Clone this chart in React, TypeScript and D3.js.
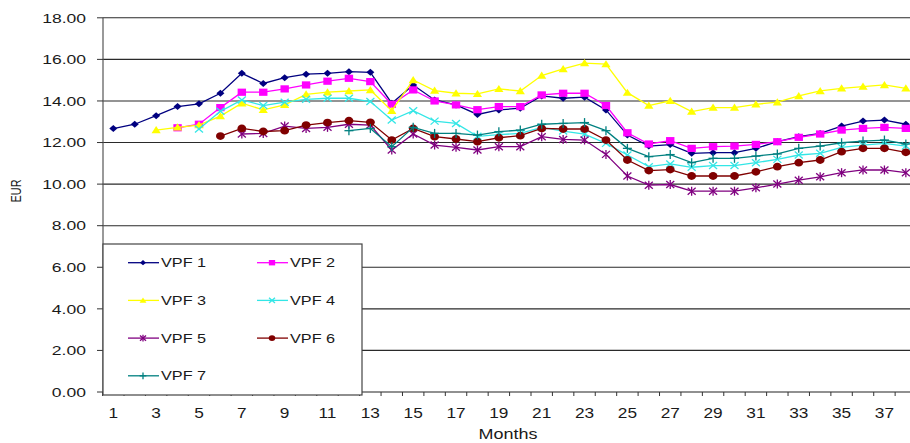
import React from "react";
import * as d3 from "d3";

// values, one entry per month (null = no value yet)
const months = d3.range(1, 39);
const yTicks = [0, 2, 4, 6, 8, 10, 12, 14, 16, 18];

const vpf1 = [12.67, 12.88, 13.29, 13.73, 13.86, 14.37, 15.33, 14.84, 15.12, 15.29, 15.33, 15.41, 15.38, 13.89, 14.77, 14.05, 13.81, 13.35, 13.57, 13.65, 14.24, 14.13, 14.18, 13.57, 12.36, 11.83, 11.9, 11.48, 11.51, 11.51, 11.72, 12.04, 12.28, 12.44, 12.79, 13.03, 13.08, 12.88];
const vpf2 = [null, null, null, 12.71, 12.88, 13.68, 14.42, 14.42, 14.58, 14.77, 14.95, 15.09, 14.93, 13.84, 14.53, 14.0, 13.81, 13.58, 13.73, 13.73, 14.29, 14.37, 14.37, 13.78, 12.47, 11.93, 12.09, 11.72, 11.8, 11.83, 11.91, 12.04, 12.25, 12.41, 12.6, 12.68, 12.73, 12.68];
const vpf3 = [null, null, 12.6, 12.73, 12.84, 13.27, 13.89, 13.57, 13.81, 14.32, 14.42, 14.48, 14.53, 13.53, 15.01, 14.5, 14.37, 14.34, 14.58, 14.48, 15.22, 15.54, 15.82, 15.77, 14.4, 13.78, 14.01, 13.49, 13.68, 13.68, 13.84, 13.94, 14.24, 14.48, 14.61, 14.69, 14.77, 14.61];
const vpf4 = [null, null, null, null, 12.65, 13.5, 14.05, 13.78, 13.94, 14.08, 14.13, 14.13, 13.97, 13.08, 13.53, 13.03, 12.92, 12.3, 12.38, 12.44, 12.73, 12.55, 12.4, 11.96, 11.4, 10.84, 10.97, 10.81, 10.89, 10.89, 11.03, 11.19, 11.4, 11.48, 11.77, 11.88, 11.96, 11.83];
const vpf5 = [null, null, null, null, null, null, 12.41, 12.44, 12.79, 12.68, 12.73, 12.88, 12.84, 11.64, 12.41, 11.88, 11.77, 11.64, 11.8, 11.8, 12.28, 12.15, 12.12, 11.43, 10.39, 9.95, 9.98, 9.66, 9.66, 9.66, 9.82, 10.0, 10.19, 10.35, 10.55, 10.68, 10.68, 10.55];
const vpf6 = [null, null, null, null, null, 12.31, 12.68, 12.53, 12.57, 12.84, 12.96, 13.05, 12.97, 12.12, 12.68, 12.28, 12.17, 12.04, 12.23, 12.33, 12.68, 12.65, 12.65, 12.12, 11.16, 10.65, 10.7, 10.39, 10.39, 10.39, 10.59, 10.84, 11.03, 11.16, 11.56, 11.72, 11.72, 11.53];
const vpf7 = [null, null, null, null, null, null, null, null, null, null, null, 12.57, 12.68, 11.8, 12.73, 12.44, 12.44, 12.36, 12.52, 12.6, 12.88, 12.92, 12.96, 12.57, 11.72, 11.32, 11.42, 11.03, 11.24, 11.24, 11.35, 11.45, 11.72, 11.83, 11.99, 12.07, 12.12, 11.93];

const series = [
  { name: "VPF 1", values: vpf1, color: "#000080", marker: "diamond" },
  { name: "VPF 2", values: vpf2, color: "#ff00ff", marker: "square" },
  { name: "VPF 3", values: vpf3, color: "#ffff00", marker: "triangle" },
  { name: "VPF 4", values: vpf4, color: "#33e6e6", marker: "x" },
  { name: "VPF 5", values: vpf5, color: "#800080", marker: "star" },
  { name: "VPF 6", values: vpf6, color: "#800000", marker: "circle" },
  { name: "VPF 7", values: vpf7, color: "#008080", marker: "plus" },
];

const W = 910, H = 443;
const FONT = "'Liberation Sans', Arial, sans-serif";

function Marker({ type, x, y, color, s = 1 }: any) {
  const t = `translate(${x},${y}) scale(${s})`;
  if (type === "diamond") return <path transform={t} d="M0,-3.5L4,0L0,3.5L-4,0Z" fill={color} />;
  if (type === "square") return <rect transform={t} x={-4.2} y={-3.6} width={8.4} height={7.2} fill={color} />;
  if (type === "triangle") return <path transform={t} d="M0,-4L4.6,3.2L-4.6,3.2Z" fill={color} />;
  if (type === "circle") return <ellipse transform={t} rx={4.4} ry={3.9} fill={color} />;
  const st = { stroke: color, strokeWidth: 1.3 / s };
  if (type === "x")
    return (
      <g transform={t} {...st}>
        <line x1={-4} y1={-3.5} x2={4} y2={3.5} />
        <line x1={-4} y1={3.5} x2={4} y2={-3.5} />
      </g>
    );
  if (type === "star")
    return (
      <g transform={t} {...st}>
        <line x1={-4} y1={-3.5} x2={4} y2={3.5} />
        <line x1={-4} y1={3.5} x2={4} y2={-3.5} />
        <line x1={0} y1={-4.5} x2={0} y2={4.5} />
      </g>
    );
  return (
    <g transform={t} {...st}>
      <line x1={-4.5} y1={0} x2={4.5} y2={0} />
      <line x1={0} y1={-4.5} x2={0} y2={4.5} />
    </g>
  );
}

export default function App() {
  const x = d3.scaleBand<number>().domain(months).range([102.6, 102.6 + 38 * 21.42]);
  const y = d3.scaleLinear().domain([0, 18]).range([392, 17.8]);
  const cx = (m: number) => (x(m) as number) + x.bandwidth() / 2;

  const line = d3
    .line<number | null>()
    .defined((d) => d != null)
    .x((_, i) => cx(months[i]))
    .y((d) => y(d as number));

  const left = 103;
  const boundaries = months.map((m) => x(m) as number).concat([(x(38) as number) + x.bandwidth()]);

  return (
    <svg width={W} height={H} style={{ position: "absolute", left: 0, top: 0, background: "#fff" }} fontFamily={FONT}>
      <rect width={W} height={H} fill="#fff" />
      {/* grid */}
      {yTicks.slice(1).map((v) => (
        <line key={v} x1={left} x2={W} y1={y(v)} y2={y(v)} stroke="#2a2a2a" strokeWidth={1.1} />
      ))}
      {/* y axis */}
      <line x1={left} x2={left} y1={y(18)} y2={y(0)} stroke="#555" strokeWidth={1.2} />
      {yTicks.map((v) => (
        <g key={v}>
          <line x1={97} x2={left} y1={y(v)} y2={y(v)} stroke="#333" />
          <text transform={`translate(86,${y(v) + 4.8}) scale(1.3,1)`} textAnchor="end" fontSize={13.5} fill="#1a1a1a">
            {v.toFixed(2)}
          </text>
        </g>
      ))}
      <text transform={`translate(21,191) rotate(-90) scale(0.95,1.3)`} textAnchor="middle" fontSize={11.5} fill="#1a1a1a">
        EUR
      </text>
      {/* x axis */}
      <line x1={left} x2={W} y1={y(0)} y2={y(0)} stroke="#222" strokeWidth={1.2} />
      {boundaries.map((b, i) => (
        <line key={i} x1={b} x2={b} y1={y(0)} y2={y(0) + 4} stroke="#333" />
      ))}
      {months
        .filter((m) => m % 2 === 1)
        .map((m) => (
          <text key={m} transform={`translate(${cx(m)},417.5) scale(1.15,1)`} textAnchor="middle" fontSize={15} fill="#1a1a1a">
            {m}
          </text>
        ))}
      <text transform="translate(508,438.5) scale(1.2,1)" textAnchor="middle" fontSize={15} fill="#1a1a1a">
        Months
      </text>
      {/* series */}
      {series.map((s) => (
        <g key={s.name}>
          <path d={line(s.values) || ""} fill="none" stroke={s.color} strokeWidth={1.3} />
          {s.values.map((v, i) =>
            v == null ? null : <Marker key={i} type={s.marker} x={cx(months[i])} y={y(v)} color={s.color} />
          )}
        </g>
      ))}
      {/* legend */}
      <rect x={103} y={244} width={259} height={151} fill="#fff" stroke="#444" strokeWidth={1.2} />
      {series.map((s, i) => {
        const col = i % 2;
        const row = Math.floor(i / 2);
        const lx = col === 0 ? 128 : 257;
        const ly = 262.7 + row * 37.7;
        return (
          <g key={s.name}>
            <line x1={lx} x2={lx + 31} y1={ly} y2={ly} stroke={s.color} strokeWidth={1.3} />
            <Marker type={s.marker} x={lx + 15} y={ly} color={s.color} s={0.75} />
            <text transform={`translate(${lx + 33},${ly + 4.6}) scale(1.25,1)`} fontSize={13} fill="#1a1a1a">
              {s.name}
            </text>
          </g>
        );
      })}
    </svg>
  );
}
